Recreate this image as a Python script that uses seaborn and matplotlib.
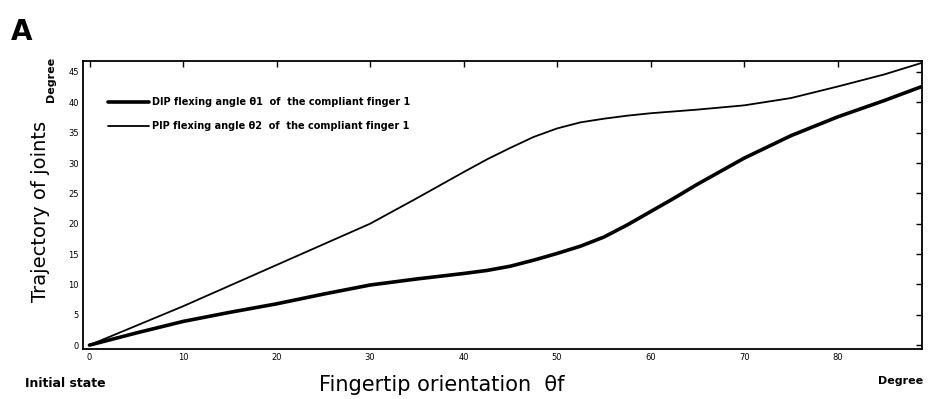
import matplotlib
matplotlib.use("Agg")
import matplotlib.pyplot as plt
import seaborn as sns
import pandas as pd

theta = [0, 5, 10, 15, 20, 25, 30, 35, 40, 42.5, 45, 47.5, 50, 52.5, 55, 57.5, 60, 62.5, 65, 70, 75, 80, 85, 89]
dip = [0, 2.0, 3.9, 5.4, 6.8, 8.4, 9.9, 10.9, 11.8, 12.3, 13.0, 14.0, 15.1, 16.3, 17.8, 19.8, 22.0, 24.2, 26.5, 30.8, 34.5, 37.6, 40.3, 42.6]
pip = [0, 3.2, 6.4, 9.8, 13.2, 16.6, 20.0, 24.2, 28.5, 30.6, 32.5, 34.3, 35.7, 36.7, 37.3, 37.8, 38.2, 38.5, 38.8, 39.5, 40.7, 42.6, 44.6, 46.5]
dip_label = "DIP flexing angle θ1  of  the compliant finger 1"
pip_label = "PIP flexing angle θ2  of  the compliant finger 1"
xticks = [0, 10, 20, 30, 40, 50, 60, 70, 80]
yticks = [0, 5, 10, 15, 20, 25, 30, 35, 40, 45]

sns.set_theme(style="white")
plt.rcParams['font.family'] = ['DejaVu Sans']
plt.rcParams['text.color'] = 'black'

fig = plt.figure(figsize=(9.3, 3.99), dpi=100)
ax = fig.add_axes([0.0892, 0.125, 0.902, 0.722])

df = pd.DataFrame({"theta": theta, "dip": dip, "pip": pip})
sns.lineplot(data=df, x="theta", y="dip", ax=ax, color="black", linewidth=2.6, label=dip_label)
sns.lineplot(data=df, x="theta", y="pip", ax=ax, color="black", linewidth=1.3, label=pip_label)

ax.set_xlim(-0.7, 89)
ax.set_ylim(-0.66, 46.8)
ax.set_xticks(xticks)
ax.set_yticks(yticks)
ax.tick_params(direction="in", length=4, width=1, labelsize=6, top=True, right=True,
               labeltop=False, labelright=False, colors="black", pad=3)
for s in ax.spines.values():
    s.set_color("black")
    s.set_linewidth(1.3)
ax.set_xlabel("")
ax.set_ylabel("")

leg = ax.legend(loc="upper left", bbox_to_anchor=(0.02, 0.905), frameon=False,
                fontsize=7, handlelength=4.2, handletextpad=0.3, labelspacing=1.45)
for t in leg.get_texts():
    t.set_fontweight("bold")
    t.set_color("black")

fig.text(0.012, 0.885, "A", fontsize=20, fontweight="bold", ha="left", va="bottom", color="black")
fig.text(0.055, 0.80, "Degree", fontsize=8, fontweight="bold", rotation=90, ha="center", va="center", color="black")
fig.text(0.044, 0.47, "Trajectory of joints", fontsize=14, rotation=90, ha="center", va="center", color="black")
fig.text(0.07, 0.04, "Initial state", fontsize=9, fontweight="bold", ha="center", va="center", color="black")
fig.text(0.475, 0.035, "Fingertip orientation  θf", fontsize=15, ha="center", va="center", color="black")
fig.text(0.968, 0.045, "Degree", fontsize=8, fontweight="bold", ha="center", va="center", color="black")

fig.savefig("out.png", dpi=100)
